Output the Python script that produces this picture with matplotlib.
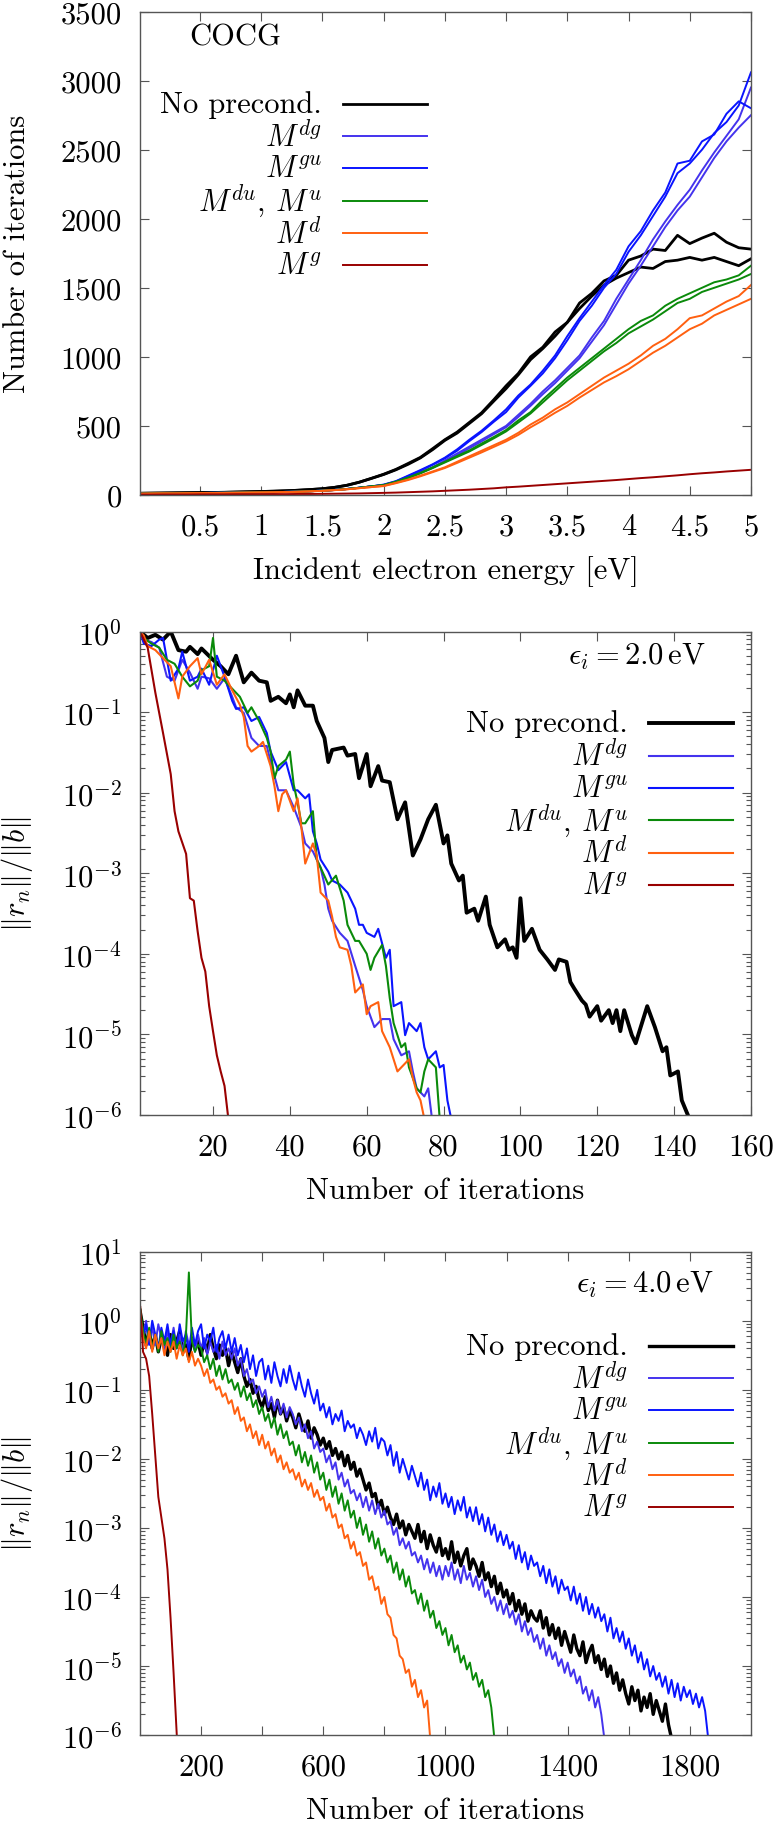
import numpy as np
import matplotlib
matplotlib.use("Agg")
import matplotlib.pyplot as plt
from matplotlib.ticker import FixedLocator, FuncFormatter, LogLocator, NullFormatter

plt.rcParams['font.family'] = ['cmr10', 'DejaVu Serif']
plt.rcParams['mathtext.fontset'] = 'cm'
plt.rcParams['axes.formatter.use_mathtext'] = True
plt.rcParams['font.size'] = 22

# ------------------------------------------------------------------ data
labels = ['No precond.', r'$M^{dg}$', r'$M^{gu}$', r'$M^{du}$, $M^{u}$', r'$M^{d}$', r'$M^{g}$']
colors = ['#000000', '#4433ee', '#0a14ff', '#0a8a0a', '#ff6010', '#990000']

# Panel 1: iterations vs incident energy (grid 0.0 .. 5.0 eV, step 0.1)
energy = np.round(np.arange(0.0, 5.001, 0.1), 2)
energy[0] = 0.01
low_black = [12, 13, 14, 15, 16, 17, 18, 19, 21, 23, 25, 27, 30, 34, 39, 45, 55, 70, 92, 120]
low_col = [10, 11, 12, 12, 13, 14, 15, 16, 17, 18, 19, 20, 22, 24, 27, 31, 36, 43, 52, 62]
low_or = [9, 10, 11, 11, 12, 13, 14, 15, 16, 17, 18, 19, 21, 23, 26, 30, 35, 41, 49, 57]
black_a = low_black + [150, 185, 228, 272, 335, 400, 455, 525, 595, 690,
                       790, 880, 1000, 1070, 1180, 1250, 1390, 1460, 1550, 1590,
                       1700, 1730, 1780, 1770, 1880, 1820, 1860, 1895, 1830, 1790, 1780]
black_b = low_black + [148, 182, 222, 268, 328, 395, 448, 518, 588, 680,
                       770, 870, 980, 1060, 1150, 1250, 1350, 1440, 1520, 1570,
                       1610, 1650, 1640, 1690, 1700, 1720, 1700, 1720, 1690, 1660, 1710]
mdg_a = low_col + [70, 95, 130, 165, 200, 250, 300, 350, 400, 450,
                   500, 580, 660, 750, 830, 920, 1010, 1140, 1260, 1420,
                   1560, 1700, 1850, 1980, 2100, 2210, 2350, 2480, 2600, 2720, 2950]
mdg_b = low_col + [68, 92, 126, 160, 195, 242, 290, 338, 388, 440,
                   490, 565, 645, 730, 810, 900, 990, 1110, 1230, 1380,
                   1530, 1660, 1800, 1940, 2060, 2160, 2300, 2440, 2560, 2660, 2750]
mgu_a = low_col + [75, 100, 140, 180, 222, 270, 330, 400, 465, 540,
                   620, 720, 800, 900, 1010, 1150, 1280, 1400, 1520, 1630,
                   1800, 1910, 2060, 2190, 2400, 2420, 2560, 2610, 2760, 2850, 2800]
mgu_b = low_col + [73, 98, 136, 176, 218, 265, 320, 390, 455, 530,
                   600, 705, 790, 880, 990, 1120, 1260, 1370, 1500, 1600,
                   1760, 1880, 2020, 2160, 2330, 2400, 2500, 2620, 2700, 2820, 3060]
green_a = low_col + [72, 96, 126, 160, 200, 240, 282, 322, 372, 420,
                     470, 540, 600, 690, 770, 850, 920, 990, 1060, 1130,
                     1200, 1260, 1300, 1370, 1420, 1460, 1500, 1540, 1560, 1590, 1660]
green_b = low_col + [70, 94, 122, 156, 195, 235, 275, 315, 362, 410,
                     460, 525, 590, 670, 750, 830, 900, 970, 1040, 1100,
                     1170, 1220, 1270, 1330, 1390, 1420, 1470, 1500, 1530, 1560, 1600]
orange_a = low_or + [66, 88, 112, 140, 170, 200, 240, 280, 320, 360,
                     400, 450, 510, 560, 620, 670, 730, 790, 850, 900,
                     950, 1010, 1080, 1130, 1200, 1280, 1300, 1350, 1400, 1440, 1520]
orange_b = low_or + [64, 85, 108, 135, 165, 195, 232, 270, 308, 348,
                     388, 435, 490, 540, 595, 645, 705, 760, 815, 860,
                     910, 970, 1030, 1080, 1140, 1200, 1240, 1300, 1340, 1380, 1420]
red_p1 = [2, 2, 3, 3, 3, 4, 4, 4, 5, 5, 5, 6, 6, 7, 7, 8, 9, 10, 11, 13,
          15, 17, 20, 23, 26, 30, 34, 38, 43, 48,
          55, 60, 66, 72, 78, 84, 90, 96, 102, 108,
          115, 122, 128, 135, 142, 150, 157, 163, 170, 176, 182]

# Panel 2: residual history at 2.0 eV  (iteration, log10 residual)
res2_black = [(1, 0), (3, -0.08), (5, -0.04), (7, -0.10), (9, 0.0), (11, -0.23), (13, -0.25), (14, -0.19),
              (16, -0.28), (17, -0.21), (20, -0.35), (22, -0.43), (24, -0.53), (26, -0.30), (28, -0.63),
              (30, -0.51), (32, -0.61), (34, -0.63), (35, -0.86), (37, -0.81), (39, -0.89), (40, -0.78),
              (41, -0.94), (42, -0.73), (44, -0.92), (46, -0.92), (47, -1.11), (49, -1.32), (50, -1.62),
              (51, -1.47), (54, -1.44), (55, -1.54), (57, -1.52), (58, -1.82), (60, -1.52), (61, -1.92),
              (63, -1.67), (64, -1.85), (66, -1.87), (68, -2.33), (70, -2.12), (72, -2.78), (74, -2.58),
              (76, -2.33), (78, -2.15), (80, -2.63), (81, -2.53), (82, -2.88), (84, -3.09), (85, -3.03),
              (86, -3.49), (88, -3.44), (89, -3.59), (91, -3.29), (92, -3.64), (94, -3.92), (96, -3.82),
              (97, -3.95), (98, -3.92), (99, -4.05), (100, -3.31), (101, -3.84), (103, -3.69), (105, -3.95),
              (107, -4.07), (109, -4.20), (110, -4.07), (112, -4.10), (113, -4.35), (114, -4.43), (116, -4.58),
              (117, -4.63), (118, -4.78), (120, -4.65), (121, -4.83), (123, -4.70), (124, -4.86), (125, -4.70),
              (126, -4.96), (127, -4.70), (129, -5.01), (130, -5.11), (133, -4.65), (135, -4.91), (137, -5.21),
              (138, -5.16), (139, -5.51), (141, -5.46), (142, -5.82), (144, -6.05)]
res2_mdg = [(1, 0), (2, -0.10), (4, -0.13), (6, -0.20), (8, -0.56), (10, -0.61), (12, -0.35), (14, -0.51),
            (16, -0.71), (17, -0.56), (19, -0.58), (21, -0.71), (23, -0.58), (25, -0.81), (26, -0.94),
            (28, -1.01), (30, -1.32), (32, -1.42), (34, -1.42), (35, -1.62), (37, -1.97), (39, -1.97),
            (41, -2.18), (43, -2.43), (44, -2.63), (46, -2.73), (48, -2.93), (49, -3.14), (50, -3.44),
            (51, -3.59), (53, -3.74), (55, -3.84), (57, -4.15), (59, -4.45), (60, -4.65), (62, -4.91),
            (64, -4.81), (66, -4.81), (67, -5.06), (69, -5.26), (71, -5.21), (72, -5.46), (73, -5.67),
            (75, -5.77), (76, -5.67), (77, -6.05)]
res2_mgu = [(1, 0), (2, -0.15), (4, -0.18), (6, -0.10), (7, -0.08), (9, -0.61), (11, -0.46), (12, -0.25),
            (14, -0.61), (16, -0.56), (17, -0.46), (19, -0.66), (21, -0.30), (23, -0.56), (25, -0.86),
            (26, -0.96), (28, -0.94), (30, -1.11), (32, -1.06), (34, -1.26), (35, -1.49), (37, -1.72),
            (39, -1.62), (41, -1.97), (42, -1.97), (44, -2.07), (45, -2.02), (46, -2.48), (47, -2.63),
            (48, -2.83), (50, -2.98), (51, -3.09), (53, -3.14), (55, -3.24), (57, -3.44), (58, -3.64),
            (59, -3.64), (60, -3.74), (62, -3.79), (63, -3.69), (65, -4.05), (66, -3.95), (67, -4.65),
            (69, -4.60), (70, -5.01), (71, -4.86), (73, -4.96), (74, -4.86), (75, -5.16), (76, -5.31),
            (78, -5.21), (79, -5.41), (80, -5.38), (81, -5.82), (82, -6.05)]
res2_green = [(1, 0), (2, -0.08), (4, -0.15), (6, -0.20), (8, -0.35), (10, -0.40), (12, -0.56), (14, -0.68),
              (16, -0.61), (17, -0.48), (19, -0.43), (20, -0.08), (21, -0.56), (23, -0.61), (25, -0.71),
              (27, -0.81), (29, -1.01), (30, -0.94), (32, -1.11), (34, -1.32), (35, -1.49), (36, -1.82),
              (37, -1.67), (39, -1.59), (40, -1.49), (41, -1.90), (42, -2.12), (43, -2.38), (44, -2.38),
              (46, -2.23), (47, -2.83), (48, -2.93), (50, -3.14), (52, -3.03), (54, -3.34), (55, -3.64),
              (57, -3.84), (58, -3.84), (60, -4.00), (61, -4.20), (62, -4.05), (64, -3.89), (65, -4.15),
              (66, -4.55), (67, -4.86), (69, -5.16), (70, -5.11), (71, -5.41), (73, -5.67), (74, -5.72),
              (75, -5.46), (76, -5.31), (78, -5.41), (79, -6.05)]
res2_orange = [(1, 0), (2, -0.05), (3, -0.18), (5, -0.23), (7, -0.33), (9, -0.43), (11, -0.83), (12, -0.56),
               (14, -0.43), (16, -0.33), (17, -0.53), (19, -0.35), (21, -0.66), (23, -0.53), (25, -0.73),
               (27, -0.91), (28, -1.06), (29, -1.42), (30, -1.49), (32, -1.42), (33, -1.37), (35, -1.67),
               (36, -1.92), (37, -2.23), (38, -2.02), (39, -1.97), (41, -2.23), (42, -2.07), (43, -2.43),
               (44, -2.88), (46, -2.63), (47, -2.78), (48, -3.24), (50, -3.34), (51, -3.54), (52, -3.79),
               (53, -3.92), (55, -3.95), (56, -4.15), (57, -4.48), (59, -4.38), (60, -4.75), (61, -4.65),
               (63, -4.60), (64, -4.96), (66, -5.16), (67, -5.31), (68, -5.46), (69, -5.41), (71, -5.31),
               (72, -5.54), (73, -5.72), (74, -5.82), (75, -6.05)]
res2_red = [(1, 0), (3, -0.20), (5, -0.76), (7, -1.26), (9, -1.77), (10, -2.23), (11, -2.48), (12, -2.62),
            (13, -2.76), (14, -3.31), (15, -3.34), (16, -3.72), (17, -4.05), (18, -4.22), (19, -4.65),
            (20, -4.96), (21, -5.26), (22, -5.46), (23, -5.64), (24, -6.05)]

# Panel 3: residual history at 4.0 eV, sampled every 10 iterations (log10 residual)
res3_black = [0.15, -0.10, -0.35, -0.15, -0.40, -0.20, -0.45, -0.25, -0.30, -0.50,
              -0.20, -0.40, -0.30, -0.15, -0.45, -0.35, -0.55, -0.25, -0.40, -0.30,
              -0.50, -0.30, -0.45, -0.20, -0.40, -0.55, -0.35, -0.50, -0.40, -0.65,
              -0.45, -0.60, -0.75, -0.55, -0.80, -0.95, -0.85, -1.05, -0.95, -1.15,
              -1.25, -1.10, -1.30, -1.20, -1.40, -1.15, -1.35, -1.25, -1.45, -1.30,
              -1.40, -1.55, -1.35, -1.50, -1.60, -1.45, -1.70, -1.55, -1.65, -1.80,
              -1.70, -1.85, -1.75, -1.95, -1.85, -2.00, -1.90, -2.10, -1.95, -2.15,
              -2.05, -2.25, -2.15, -2.30, -2.45, -2.35, -2.55, -2.50, -2.70, -2.60,
              -2.80, -2.70, -2.85, -2.95, -2.80, -3.00, -2.90, -3.10, -2.95, -3.05,
              -3.15, -2.95, -3.20, -3.05, -3.30, -3.10, -3.25, -3.35, -3.15, -3.40,
              -3.30, -3.45, -3.20, -3.50, -3.35, -3.55, -3.40, -3.30, -3.60, -3.45,
              -3.55, -3.70, -3.50, -3.75, -3.65, -3.85, -3.70, -3.95, -3.80, -4.00,
              -3.90, -4.10, -3.95, -4.20, -4.05, -4.25, -4.10, -4.35, -4.20, -4.30,
              -4.35, -4.20, -4.45, -4.30, -4.55, -4.40, -4.60, -4.45, -4.70, -4.50,
              -4.65, -4.80, -4.55, -4.75, -4.85, -4.65, -4.95, -4.80, -4.70, -4.95,
              -4.85, -5.05, -4.90, -5.15, -5.00, -5.25, -5.10, -5.35, -5.20, -5.40,
              -5.55, -5.30, -5.50, -5.35, -5.65, -5.45, -5.60, -5.40, -5.70, -5.50,
              -5.65, -5.80, -5.55, -5.85, -6.05]
res3_mgu = [0.05, -0.25, -0.05, -0.35, 0.00, -0.20, -0.40, -0.10, -0.30, -0.05,
            -0.35, -0.15, -0.40, -0.05, -0.30, -0.20, -0.45, -0.10, -0.35, -0.15,
            -0.05, -0.40, -0.20, -0.30, -0.10, -0.45, -0.25, -0.15, -0.40, -0.20,
            -0.45, -0.25, -0.50, -0.35, -0.60, -0.40, -0.70, -0.50, -0.80, -0.60,
            -0.55, -0.85, -0.65, -0.90, -0.60, -0.80, -0.95, -0.70, -0.90, -0.65,
            -0.85, -1.00, -0.75, -0.95, -1.10, -0.85, -1.05, -1.20, -1.00, -1.30,
            -1.20, -1.40, -1.25, -1.50, -1.35, -1.45, -1.30, -1.60, -1.45, -1.55,
            -1.50, -1.70, -1.55, -1.65, -1.80, -1.60, -1.75, -1.55, -1.85, -1.70,
            -1.75, -1.95, -1.80, -2.10, -1.90, -2.20, -2.00, -2.15, -2.30, -2.10,
            -2.25, -2.40, -2.20, -2.45, -2.30, -2.60, -2.40, -2.55, -2.35, -2.65,
            -2.50, -2.70, -2.55, -2.80, -2.60, -2.75, -2.55, -2.85, -2.70, -2.90,
            -2.70, -2.95, -2.80, -3.05, -2.85, -3.10, -2.95, -3.20, -3.05, -3.25,
            -3.10, -3.30, -3.20, -3.45, -3.25, -3.50, -3.35, -3.60, -3.40, -3.55,
            -3.50, -3.70, -3.55, -3.80, -3.60, -3.85, -3.70, -3.95, -3.75, -3.90,
            -3.85, -4.05, -3.85, -4.10, -3.95, -4.20, -4.00, -4.25, -4.10, -4.30,
            -4.15, -4.35, -4.25, -4.50, -4.30, -4.60, -4.45, -4.65, -4.50, -4.75,
            -4.60, -4.85, -4.70, -4.95, -4.80, -5.05, -4.90, -5.15, -5.00, -5.20,
            -5.10, -5.30, -5.15, -5.40, -5.20, -5.45, -5.25, -5.50, -5.30, -5.45,
            -5.35, -5.55, -5.40, -5.60, -5.45, -5.65, -6.05]
res3_mdg = [0.10, -0.20, 0.00, -0.30, -0.10, -0.35, -0.05, -0.25, -0.40, -0.15,
            -0.35, -0.10, -0.40, -0.20, -0.45, -0.15, -0.35, -0.25, -0.45, -0.20,
            -0.40, -0.25, -0.50, -0.30, -0.45, -0.35, -0.55, -0.30, -0.50, -0.40,
            -0.55, -0.40, -0.65, -0.55, -0.80, -0.70, -0.90, -0.85, -1.05, -0.95,
            -1.10, -1.00, -1.25, -1.10, -1.30, -1.15, -1.35, -1.20, -1.40, -1.25,
            -1.35, -1.50, -1.40, -1.60, -1.50, -1.70, -1.60, -1.85, -1.75, -1.90,
            -1.85, -2.05, -1.95, -2.15, -2.05, -2.30, -2.20, -2.40, -2.30, -2.50,
            -2.45, -2.60, -2.50, -2.70, -2.55, -2.75, -2.60, -2.80, -2.65, -2.85,
            -2.75, -2.95, -2.90, -3.10, -3.00, -3.25, -3.15, -3.30, -3.20, -3.40,
            -3.35, -3.50, -3.40, -3.60, -3.45, -3.65, -3.50, -3.70, -3.55, -3.75,
            -3.55, -3.70, -3.50, -3.75, -3.60, -3.80, -3.55, -3.75, -3.65, -3.85,
            -3.70, -3.90, -3.75, -4.00, -3.90, -4.10, -4.00, -4.20, -4.05, -4.25,
            -4.10, -4.30, -4.20, -4.40, -4.25, -4.50, -4.35, -4.55, -4.45, -4.65,
            -4.55, -4.75, -4.60, -4.85, -4.70, -4.90, -4.80, -5.00, -4.90, -5.10,
            -4.95, -5.15, -5.05, -5.25, -5.15, -5.40, -5.30, -5.50, -5.35, -5.60,
            -5.45, -5.70, -6.05]
res3_green = [0.20, -0.15, -0.35, -0.10, -0.40, -0.20, -0.45, -0.15, -0.35, -0.25,
              -0.45, -0.20, -0.40, -0.30, -0.50, -0.25, 0.70, -0.30, -0.45, -0.35,
              -0.40, -0.60, -0.50, -0.70, -0.55, -0.80, -0.65, -0.85, -0.70, -0.90,
              -0.85, -1.00, -0.90, -1.10, -0.95, -1.15, -1.05, -1.25, -1.15, -1.35,
              -1.25, -1.45, -1.35, -1.55, -1.40, -1.65, -1.50, -1.70, -1.60, -1.80,
              -1.75, -1.95, -1.80, -2.05, -1.90, -2.10, -1.95, -2.20, -2.05, -2.30,
              -2.20, -2.45, -2.30, -2.55, -2.40, -2.65, -2.50, -2.75, -2.60, -2.85,
              -2.75, -3.00, -2.85, -3.10, -2.95, -3.20, -3.05, -3.30, -3.15, -3.40,
              -3.30, -3.50, -3.40, -3.65, -3.50, -3.75, -3.60, -3.85, -3.70, -3.95,
              -3.90, -4.10, -3.95, -4.20, -4.05, -4.30, -4.20, -4.45, -4.35, -4.55,
              -4.45, -4.70, -4.55, -4.80, -4.70, -4.95, -4.85, -5.05, -4.95, -5.20,
              -5.10, -5.30, -5.20, -5.45, -5.35, -5.60, -6.05]
res3_orange = [0.10, -0.25, -0.40, -0.15, -0.45, -0.20, -0.40, -0.25, -0.50, -0.30,
               -0.45, -0.30, -0.55, -0.35, -0.50, -0.40, -0.60, -0.45, -0.65, -0.55,
               -0.65, -0.80, -0.70, -0.90, -0.85, -1.00, -0.95, -1.10, -1.05, -1.20,
               -1.15, -1.35, -1.25, -1.45, -1.40, -1.60, -1.50, -1.70, -1.60, -1.80,
               -1.65, -1.85, -1.75, -1.95, -1.85, -2.05, -1.95, -2.15, -2.05, -2.20,
               -2.15, -2.30, -2.20, -2.40, -2.30, -2.45, -2.35, -2.55, -2.45, -2.60,
               -2.55, -2.75, -2.65, -2.85, -2.80, -3.00, -2.95, -3.15, -3.10, -3.30,
               -3.20, -3.40, -3.35, -3.55, -3.50, -3.75, -3.70, -3.90, -3.85, -4.10,
               -4.00, -4.25, -4.30, -4.55, -4.60, -4.85, -4.90, -5.10, -5.05, -5.30,
               -5.20, -5.45, -5.35, -5.60, -5.50, -6.05]
res3_red_it = [1, 10, 20, 30, 40, 50, 60, 70, 80, 90, 100, 110, 121]
res3_red = [0.2, -0.45, -0.55, -0.80, -1.35, -1.95, -2.55, -2.85, -3.15, -3.60, -4.30, -5.10, -6.05]

# ------------------------------------------------------------------ figure
fig = plt.figure(figsize=(7.73, 18.24), dpi=100)
axL, axW, axH = 0.1811, 0.7904, 0.2650
ax1 = fig.add_axes([axL, 0.7281, axW, axH])
ax2 = fig.add_axes([axL, 0.3882, axW, axH])
ax3 = fig.add_axes([axL, 0.0482, axW, axH])

SPINE = '#555555'


def style(ax):
    ax.tick_params(which='both', direction='in', top=True, right=True, color=SPINE, labelcolor='black')
    ax.tick_params(which='major', length=6.5, width=0.8, pad=13)
    ax.tick_params(which='minor', length=3.3, width=0.8)
    for sp in ax.spines.values():
        sp.set_color(SPINE)
        sp.set_linewidth(1.0)


def key_legend(ax, handles, x_line, y_mid):
    # legend keys only (uniform rows); the labels are added next to them afterwards
    return ax.legend(handles, [''] * len(handles), loc='center left', bbox_to_anchor=(x_line, y_mid),
                     frameon=False, handlelength=2.75, handletextpad=0.0, labelspacing=0.16,
                     borderpad=0, borderaxespad=0)


# Panel 1
lw_c = 1.4
h = []
h += ax1.plot(energy, black_a, color=colors[0], lw=2.0)
ax1.plot(energy, black_b, color=colors[0], lw=2.0)
h += ax1.plot(energy, mdg_a, color=colors[1], lw=lw_c)
ax1.plot(energy, mdg_b, color=colors[1], lw=lw_c)
h += ax1.plot(energy, mgu_a, color=colors[2], lw=lw_c)
ax1.plot(energy, mgu_b, color=colors[2], lw=lw_c)
h += ax1.plot(energy, green_a, color=colors[3], lw=lw_c)
ax1.plot(energy, green_b, color=colors[3], lw=lw_c)
h += ax1.plot(energy, orange_a, color=colors[4], lw=lw_c)
ax1.plot(energy, orange_b, color=colors[4], lw=lw_c)
h += ax1.plot(energy, red_p1, color=colors[5], lw=lw_c)
ax1.set_xlim(0.01, 5)
ax1.set_ylim(0, 3500)
ax1.xaxis.set_major_locator(FixedLocator([0.5, 1, 1.5, 2, 2.5, 3, 3.5, 4, 4.5, 5]))
ax1.xaxis.set_major_formatter(FuncFormatter(lambda v, p: ('%g' % v)))
ax1.yaxis.set_major_locator(FixedLocator(list(range(0, 3501, 500))))
ax1.yaxis.set_major_formatter(FuncFormatter(lambda v, p: '%d' % v))
style(ax1)
ax1.set_xlabel('Incident electron energy [eV]')
ax1.set_ylabel('Number of iterations')
ax1.xaxis.set_label_coords(0.5, -0.124)
ax1.yaxis.set_label_coords(-0.178, 0.5)
ax1.text(0.08, 0.948, 'COCG', transform=ax1.transAxes, ha='left', va='center')
leg1 = key_legend(ax1, h, 0.332, 0.636)

# Panel 2
series2 = [res2_black, res2_mdg, res2_mgu, res2_green, res2_orange, res2_red]
h = []
for k, s in enumerate(series2):
    it = [p[0] for p in s]
    r = [10.0 ** p[1] for p in s]
    h += ax2.plot(it, r, color=colors[k], lw=2.8 if k == 0 else 1.5)
ax2.set_yscale('log')
ax2.set_ylim(1e-6, 1)
ax2.set_xlim(1, 160)
ax2.xaxis.set_major_locator(FixedLocator(list(range(20, 161, 20))))
ax2.xaxis.set_major_formatter(FuncFormatter(lambda v, p: '%d' % v))

# Panel 3
it3 = list(range(0, 2000, 10))
series3 = [res3_black, res3_mdg, res3_mgu, res3_green, res3_orange]
h3 = []
for k, s in enumerate(series3):
    h3 += ax3.plot(it3[:len(s)], [10.0 ** v for v in s], color=colors[k], lw=2.4 if k == 0 else 1.4)
h3 += ax3.plot(res3_red_it, [10.0 ** v for v in res3_red], color=colors[5], lw=1.4)
ax3.set_yscale('log')
ax3.set_ylim(1e-6, 10)
ax3.set_xlim(0, 2000)
ax3.xaxis.set_major_locator(FixedLocator(list(range(200, 1801, 200))))
ax3.xaxis.set_major_formatter(FuncFormatter(lambda v, p: ('%d' % v) if int(round(v)) % 400 == 200 else ''))

for ax in (ax2, ax3):
    ax.yaxis.set_major_locator(LogLocator(base=10, numticks=20))
    ax.yaxis.set_minor_locator(LogLocator(base=10, subs=np.arange(2, 10), numticks=20))
    ax.yaxis.set_major_formatter(FuncFormatter(lambda v, p: r'$10^{%d}$' % int(round(np.log10(v)))))
    ax.yaxis.set_minor_formatter(NullFormatter())
    style(ax)
    ax.set_xlabel('Number of iterations')
    ax.set_ylabel(r'$\|r_n\|/\|b\|$')
    ax.xaxis.set_label_coords(0.5, -0.128)
    ax.yaxis.set_label_coords(-0.172, 0.5)

leg2 = key_legend(ax2, h, 0.833, 0.637)
leg3 = key_legend(ax3, h3, 0.833, 0.632)
ax2.text(0.926, 0.950, r'$\epsilon_i = 2.0\,\mathrm{eV}$', transform=ax2.transAxes, ha='right', va='center')
ax3.text(0.938, 0.934, r'$\epsilon_i = 4.0\,\mathrm{eV}$', transform=ax3.transAxes, ha='right', va='center')

# place the labels right-aligned next to the legend keys
fig.canvas.draw()
renderer = fig.canvas.get_renderer()
GAP_PX = 21
for ax, leg in ((ax1, leg1), (ax2, leg2), (ax3, leg3)):
    for line, lab in zip(leg.get_lines(), labels):
        bb = line.get_window_extent(renderer)
        xa, ya = ax.transAxes.inverted().transform((bb.x0 - GAP_PX, 0.5 * (bb.y0 + bb.y1)))
        ax.text(xa, ya, lab, transform=ax.transAxes, ha='right', va='center')

fig.savefig('out.png', dpi=100)
